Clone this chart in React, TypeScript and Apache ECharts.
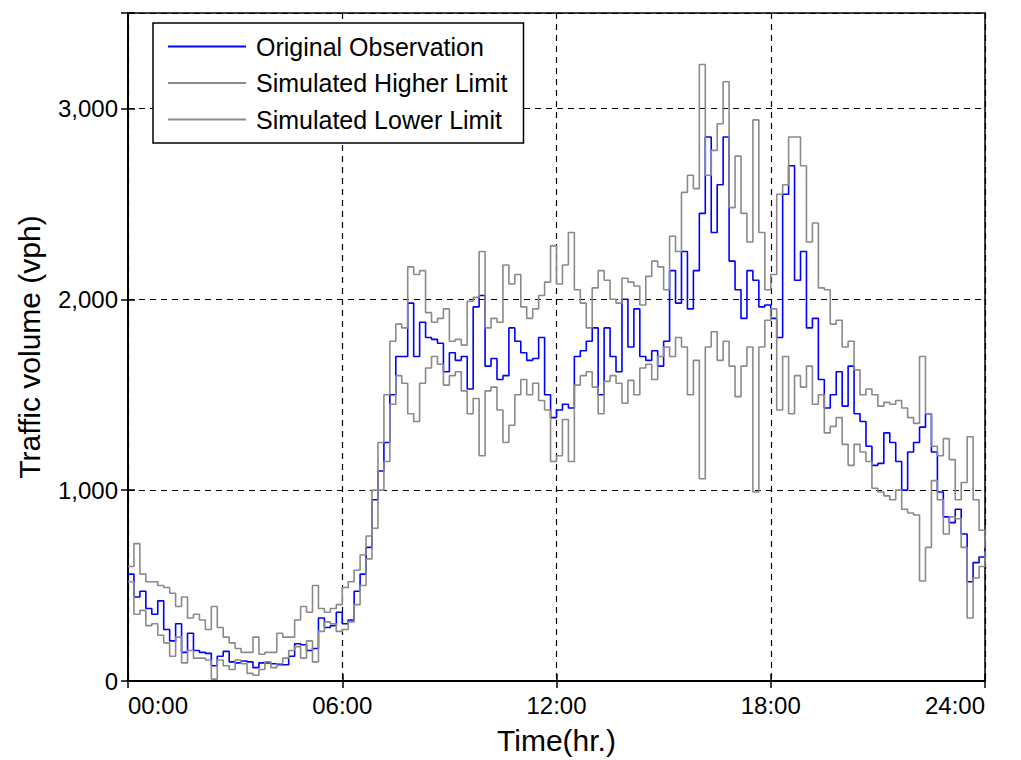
import React, { useEffect, useRef } from "react";
import * as echarts from "echarts";

// 10-minute samples from 00:00 to 24:00 (145 points)
const STEP_MIN = 10;

const observed = [
  560, 440, 470, 380, 350, 420, 270, 210, 300, 150, 250, 160, 150, 145, 80, 130, 155, 100, 95, 105,
  100, 70, 95, 95, 90, 85, 85, 130, 195, 190, 160, 170, 330, 280, 290, 360, 300, 320, 470, 560,
  700, 950, 1100, 1250,
  1500, 1700, 1700, 1980, 1700, 1880, 1800, 1790, 1770, 1620, 1720, 1680, 1700, 1530, 1960, 2020,
  1650, 1690, 1580, 1600, 1850, 1780, 1720, 1680, 1690, 1800, 1500, 1380, 1420, 1450, 1430, 1700, 1730,
  1780, 1850, 1500, 1850, 1700, 1620, 2000, 1750, 1950, 1700, 1680, 1730, 1650, 1780, 2150, 1980,
  2250, 1950, 2150, 2450, 2850, 2350, 2600, 2850, 2200, 2050, 1900, 2150, 2100, 1960, 1970,
  1900, 1800, 2550, 2700, 2100, 2250, 1850, 1900, 1580, 1430, 1500, 1620, 1440, 1650, 1400, 1360,
  1230, 1130, 1140, 1300, 1250, 1150, 1000, 1200, 1250, 1330, 1400, 1200, 990, 860, 830, 900,
  770, 520, 620, 650, 690,
];

const higherLimit = [
  600, 720, 560, 520, 520, 500, 490, 460, 390, 440, 330, 350, 320, 270, 390, 280, 230, 200, 170, 150,
  150, 230, 140, 150, 150, 250, 230, 230, 320, 390, 360, 500, 380, 360, 380, 400, 490, 520, 580, 660,
  760, 1000, 1250, 1500,
  1780, 1870, 1850, 2170, 2130, 2150, 1930, 1880, 1900, 1950, 1780, 1790, 1760, 1990, 2010, 2250,
  1850, 1900, 1880, 2180, 2080, 2130, 1960, 1900, 1950, 2020, 2090, 2280, 2080, 2180, 2350, 2050, 1980,
  1850, 2060, 2150, 2100, 2000, 1980, 2110, 2090, 2070, 1970, 2120, 2200, 2170, 2050, 2330, 2250,
  2560, 2650, 2580, 3230, 2650, 2780, 2920, 3140, 2480, 2750, 2450, 2300, 2940, 2350, 2050,
  2130, 2550, 2600, 2850, 2850, 2700, 2300, 2400, 2060, 2050, 1870, 1890, 1750, 1780, 1630, 1500,
  1530, 1500, 1440, 1460, 1450, 1470, 1430, 1380, 1350, 1700, 1400, 1230, 1180, 1270, 1160, 950,
  1040, 1280, 950, 790, 700,
];

const lowerLimit = [
  520, 350, 370, 290, 300, 240, 200, 130, 230, 95, 160, 120, 120, 110, 10, 110, 80, 60, 110, 90,
  40, 30, 60, 100, 70, 90, 120, 160, 180, 120, 210, 100, 260, 310, 300, 260, 270, 310, 400, 500,
  640, 800, 1000, 1150,
  1450, 1600, 1560, 1400, 1360, 1560, 1640, 1700, 1660, 1550, 1600, 1620, 1520, 1400, 1480, 1180,
  1520, 1540, 1420, 1250, 1340, 1500, 1580, 1500, 1560, 1470, 1420, 1150, 1180, 1370, 1150, 1550, 1600,
  1620, 1540, 1400, 1570, 1600, 1560, 1455, 1575, 1500, 1640, 1660, 1580, 1700, 1750, 1700, 1800,
  1750, 1500, 1680, 1060, 1750, 1830, 1680, 1780, 1650, 1490, 1650, 1750, 990, 1750, 1890,
  1950, 1420, 1700, 1400, 1600, 1540, 1650, 1450, 1500, 1300, 1334, 1380, 1240, 1130, 1240, 1200,
  1150, 1010, 990, 970, 950, 1000, 900, 880, 870, 524, 700, 1050, 950, 770, 860, 850,
  700, 330, 540, 600, 680,
];

const seriesNames = ["Original Observation", "Simulated Higher Limit", "Simulated Lower Limit"];
const xTickLabels = ["00:00", "06:00", "12:00", "18:00", "24:00"];
const yTickValues = [0, 1000, 2000, 3000];
const yTickLabels = ["0", "1,000", "2,000", "3,000"];

const FONT = "'Liberation Sans', Arial, sans-serif";

function toPairs(values: number[]) {
  return values.map((v, i) => [i * STEP_MIN, v]);
}

export default function App() {
  const ref = useRef<HTMLDivElement>(null);

  useEffect(() => {
    if (!ref.current) return;
    const chart = echarts.init(ref.current, undefined, { renderer: "svg" });

    const xFormatter = (v: number) => {
      const idx = Math.round(v / 360);
      return Math.abs(v - idx * 360) < 1e-6 && xTickLabels[idx] !== undefined ? xTickLabels[idx] : "";
    };
    const yFormatter = (v: number) => {
      const idx = yTickValues.indexOf(v);
      return idx >= 0 ? yTickLabels[idx] : "";
    };

    const gridLine = { show: true, lineStyle: { color: "#000", type: [6, 5], width: 1.2 } };
    const tick = { show: true, inside: true, length: 7, lineStyle: { color: "#000", width: 1.5 } };
    const axLine = { show: true, lineStyle: { color: "#000", width: 1.5 } };

    const option: any = {
      animation: false,
      backgroundColor: "#ffffff",
      textStyle: { fontFamily: FONT },
      grid: {
        left: 128,
        right: 36,
        top: 13,
        bottom: 72,
        show: true,
        borderColor: "#000",
        borderWidth: 1.5,
      },
      legend: {
        orient: "vertical",
        left: 153,
        top: 23,
        padding: [11, 16, 11, 15],
        icon: "rect",
        itemWidth: 78,
        itemHeight: 2,
        itemGap: 11.5,
        selectedMode: false,
        backgroundColor: "#ffffff",
        borderColor: "#000",
        borderWidth: 1.5,
        z: 10,
        textStyle: {
          fontSize: 25,
          lineHeight: 25,
          color: "#000",
          fontFamily: FONT,
          padding: [0, 0, 0, 5],
        },
        data: seriesNames,
      },
      xAxis: [
        {
          type: "value",
          min: 0,
          max: 1440,
          interval: 360,
          axisLine: axLine,
          axisTick: tick,
          splitLine: gridLine,
          axisLabel: {
            formatter: xFormatter,
            fontSize: 24,
            color: "#000",
            margin: 12,
            fontFamily: FONT,
            alignMinLabel: "left",
            alignMaxLabel: "right",
          },
          name: "Time(hr.)",
          nameLocation: "middle",
          nameGap: 44,
          nameTextStyle: { fontSize: 30, color: "#000", fontFamily: FONT },
        },
        {
          type: "value",
          position: "top",
          min: 0,
          max: 1440,
          interval: 360,
          axisLine: axLine,
          axisTick: tick,
          splitLine: { show: false },
          axisLabel: { show: false },
        },
      ],
      yAxis: [
        {
          type: "value",
          min: 0,
          max: 3500,
          interval: 1000,
          axisLine: axLine,
          axisTick: tick,
          splitLine: gridLine,
          axisLabel: { formatter: yFormatter, fontSize: 24, color: "#000", margin: 10, fontFamily: FONT },
          name: "Traffic volume (vph)",
          nameLocation: "middle",
          nameGap: 84,
          nameTextStyle: { fontSize: 30, color: "#000", fontFamily: FONT },
        },
        {
          type: "value",
          position: "right",
          min: 0,
          max: 3500,
          interval: 1000,
          axisLine: axLine,
          axisTick: tick,
          splitLine: { show: false },
          axisLabel: { show: false },
        },
      ],
      series: [
        {
          name: seriesNames[0],
          type: "line",
          step: "end",
          symbol: "none",
          z: 2,
          lineStyle: { color: "#0000ff", width: 1.6 },
          itemStyle: { color: "#0000ff" },
          data: toPairs(observed),
        },
        {
          name: seriesNames[1],
          type: "line",
          step: "end",
          symbol: "none",
          z: 3,
          lineStyle: { color: "#8a8a8a", width: 1.6 },
          itemStyle: { color: "#8a8a8a" },
          data: toPairs(higherLimit),
        },
        {
          name: seriesNames[2],
          type: "line",
          step: "end",
          symbol: "none",
          z: 3,
          lineStyle: { color: "#8a8a8a", width: 1.6 },
          itemStyle: { color: "#8a8a8a" },
          data: toPairs(lowerLimit),
        },
      ],
    };

    chart.setOption(option);
    return () => chart.dispose();
  }, []);

  return (
    <div
      ref={ref}
      style={{ position: "absolute", left: 0, top: 0, width: 1021, height: 760 }}
    />
  );
}
